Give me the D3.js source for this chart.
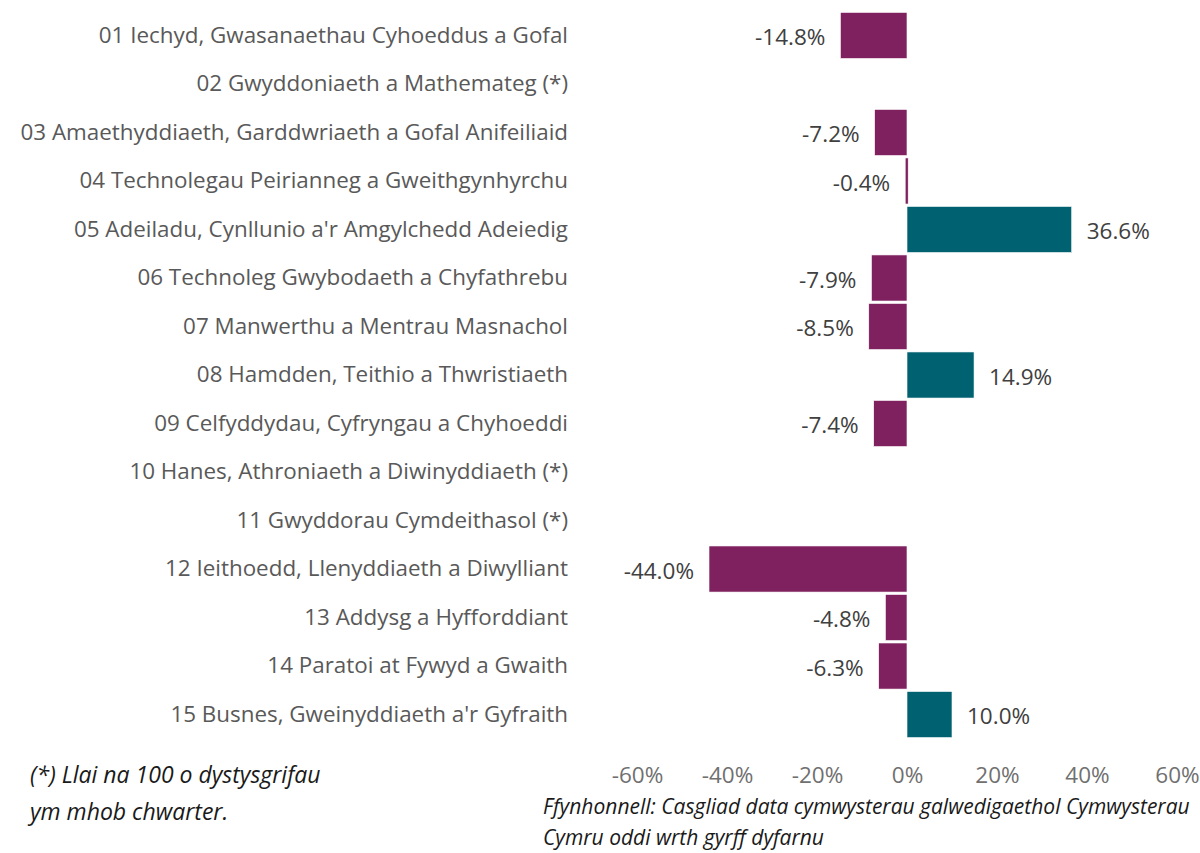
<!DOCTYPE html>
<html>
<head>
<meta charset="utf-8">
<script src="https://cdn.jsdelivr.net/npm/d3@7"></script>
<style>
  body { margin: 0; background: #fff; }
  svg text { font-family: "Open Sans", "Noto Sans", sans-serif; }
</style>
</head>
<body>
<div class="chart"></div>
<script>
// data
var categories = [
  "01 Iechyd, Gwasanaethau Cyhoeddus a Gofal",
  "02 Gwyddoniaeth a Mathemateg (*)",
  "03 Amaethyddiaeth, Garddwriaeth a Gofal Anifeiliaid",
  "04 Technolegau Peirianneg a Gweithgynhyrchu",
  "05 Adeiladu, Cynllunio a'r Amgylchedd Adeiedig",
  "06 Technoleg Gwybodaeth a Chyfathrebu",
  "07 Manwerthu a Mentrau Masnachol",
  "08 Hamdden, Teithio a Thwristiaeth",
  "09 Celfyddydau, Cyfryngau a Chyhoeddi",
  "10 Hanes, Athroniaeth a Diwinyddiaeth (*)",
  "11 Gwyddorau Cymdeithasol (*)",
  "12 Ieithoedd, Llenyddiaeth a Diwylliant",
  "13 Addysg a Hyfforddiant",
  "14 Paratoi at Fywyd a Gwaith",
  "15 Busnes, Gweinyddiaeth a'r Gyfraith"
];
var changes = [-14.8, null, -7.2, -0.4, 36.6, -7.9, -8.5, 14.9, -7.4, null, null, -44.0, -4.8, -6.3, 10.0];
var xTicks = [-60, -40, -20, 0, 20, 40, 60];
var footnote = ["(*) Llai na 100 o dystysgrifau", "ym mhob chwarter."];
var source = ["Ffynhonnell: Casgliad data cymwysterau galwedigaethol Cymwysterau", "Cymru oddi wrth gyrff dyfarnu"];

var svgWidth = 1200;
var svgHeight = 853;

var svg = d3.select(".chart")
    .append("svg")
    .attr("width", svgWidth)
    .attr("height", svgHeight);

var rows = categories.map(function (c, i) { return { name: c, value: changes[i] }; });

// scales
var xScale = d3.scaleLinear().domain([-60, 60]).range([637, 1177]);
var yScale = d3.scaleBand().domain(categories).range([10, 740]).padding(0.05);

var purple = "#7f215e";
var teal = "#006170";

// bars
svg.append("g").selectAll("rect")
    .data(rows.filter(function (d) { return d.value !== null; }))
    .enter()
    .append("rect")
    .attr("x", function (d) { return xScale(Math.min(0, d.value)); })
    .attr("y", function (d) { return yScale(d.name); })
    .attr("width", function (d) { return Math.max(3, Math.abs(xScale(d.value) - xScale(0))); })
    .attr("height", yScale.bandwidth())
    .attr("fill", function (d) { return d.value < 0 ? purple : teal; })
    .attr("stroke", "#ffffff")
    .attr("stroke-width", 0.6);

// value labels
svg.append("g").selectAll("text")
    .data(rows.filter(function (d) { return d.value !== null; }))
    .enter()
    .append("text")
    .text(function (d) { return d.value.toFixed(1) + "%"; })
    .attr("x", function (d) { return d.value < 0 ? xScale(d.value) - 15 : xScale(d.value) + 15; })
    .attr("y", function (d) { return yScale(d.name) + yScale.bandwidth() / 2 + 2; })
    .attr("dy", "0.35em")
    .attr("text-anchor", function (d) { return d.value < 0 ? "end" : "start"; })
    .attr("font-size", "22.5px")
    .attr("fill", "#404040");

// category labels
var yAxis = d3.axisLeft(yScale).tickSize(0).tickPadding(0);
var yg = svg.append("g")
    .attr("transform", "translate(568,0)")
    .call(yAxis);
yg.select(".domain").remove();
yg.selectAll("text")
    .attr("font-size", "22.4px")
    .attr("fill", "#595959")
    .attr("font-family", null);

// x axis
var xAxis = d3.axisBottom(xScale)
    .tickValues(xTicks)
    .tickSize(0)
    .tickPadding(0)
    .tickFormat(function (d) { return d + "%"; });
var xg = svg.append("g")
    .attr("transform", "translate(0,767)")
    .call(xAxis);
xg.select(".domain").remove();
xg.selectAll("text")
    .attr("font-size", "22.5px")
    .attr("fill", "#707070")
    .attr("font-family", null);

// footnotes
svg.append("g").selectAll("text")
    .data(footnote)
    .enter()
    .append("text")
    .text(function (d) { return d; })
    .attr("x", 30)
    .attr("y", function (d, i) { return 783 + i * 37; })
    .attr("font-size", "23px")
    .attr("font-style", "italic")
    .attr("fill", "#1a1a1a");

svg.append("g").selectAll("text")
    .data(source)
    .enter()
    .append("text")
    .text(function (d) { return d; })
    .attr("x", 543)
    .attr("y", function (d, i) { return 814 + i * 31; })
    .attr("font-size", "21px")
    .attr("font-style", "italic")
    .attr("fill", "#1a1a1a");
</script>
</body>
</html>
